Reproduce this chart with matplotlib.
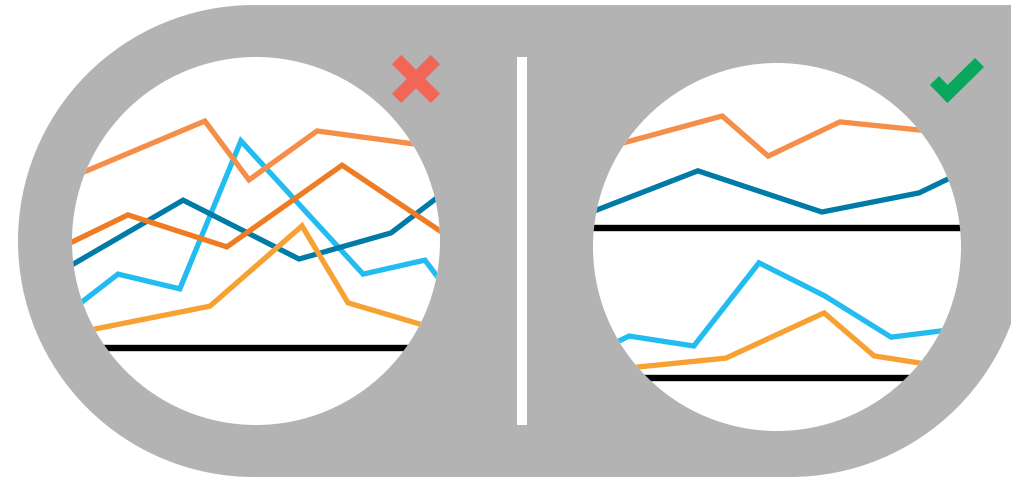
import matplotlib.pyplot as plt
from matplotlib.patches import Circle, Rectangle
from matplotlib.lines import Line2D

# colours
GREY = "#b3b3b3"
LIGHT_ORANGE = "#f58e48"
DARK_ORANGE = "#ef7b22"
DARK_BLUE = "#007aa6"
LIGHT_BLUE = "#22bcf1"
YELLOW = "#f6a132"

# left chart: all five series on one axis (0-100 scale)
bad_x_light_orange = [-3.3, 36.1, 48.1, 66.6, 92.7, 102.7]
bad_y_light_orange = [66.0, 82.6, 66.6, 79.9, 76.4, 75.0]
bad_x_dark_orange = [-3.3, 15.2, 42.1, 73.4, 104.1]
bad_y_dark_orange = [48.1, 57.1, 48.4, 70.6, 50.0]
bad_x_dark_blue = [-3.3, 30.2, 61.7, 86.7, 104.1]
bad_y_dark_blue = [41.6, 61.1, 45.1, 52.2, 65.5]
bad_x_light_blue = [-3.3, 12.5, 29.3, 45.9, 79.1, 95.9, 104.1]
bad_y_light_blue = [28.8, 41.0, 37.0, 77.2, 41.0, 44.8, 34.0]
bad_x_yellow = [-3.3, 37.5, 62.5, 75.0, 94.6, 104.1]
bad_y_yellow = [24.2, 32.3, 54.1, 33.2, 27.4, 24.7]
bad_baselines = [20.9]

# right chart: split into two stacked charts
good_x_light_orange = [-3.5, 35.1, 47.6, 67.1, 88.6, 103.8]
good_y_light_orange = [75.1, 85.6, 74.7, 84.0, 81.8, 80.2]
good_x_dark_blue = [-3.5, 28.5, 62.2, 88.6, 96.5, 103.8]
good_y_dark_blue = [58.3, 70.7, 59.5, 64.7, 68.5, 72.0]
good_x_light_blue = [-3.5, 9.8, 27.4, 45.1, 63.0, 81.0, 94.6, 103.8]
good_y_light_blue = [19.3, 25.8, 23.1, 45.7, 36.7, 25.5, 27.2, 28.3]
good_x_yellow = [-3.5, 36.1, 62.8, 76.4, 88.6, 103.8]
good_y_yellow = [15.8, 19.8, 32.1, 20.4, 18.5, 16.0]
good_baselines = [55.2, 14.4]

W, H = 1012, 481
fig = plt.figure(figsize=(W / 100, H / 100), dpi=100)
fig.patch.set_facecolor("white")

# background layer in pixel units
bg = fig.add_axes([0, 0, 1, 1])
bg.set_xlim(0, W)
bg.set_ylim(H, 0)
bg.axis("off")

# grey frame: round on the left, rounded bottom-right, square top-right
bg.add_patch(Circle((254, 242), 236, color=GREY, lw=0))
bg.add_patch(Rectangle((254, 6), 536, 472, color=GREY, lw=0))
bg.add_patch(Circle((790, 242), 236, color=GREY, lw=0))
bg.add_patch(Rectangle((790, 6), 240, 236, color=GREY, lw=0))

# white divider
bg.add_patch(Rectangle((517, 58), 10, 368, color="white", lw=0))

# red cross
for xs, ys in [([396.6, 435.4], [60.6, 99.4]), ([435.4, 396.6], [60.6, 99.4])]:
    bg.add_line(Line2D(xs, ys, color="#f26658", lw=9.4, solid_capstyle="butt"))

# green tick
bg.add_line(Line2D([934.5, 947.5, 979.5], [81.5, 95, 63.5], color="#08a75b",
                   lw=9.2, solid_capstyle="butt", solid_joinstyle="miter"))


def panel(cx, cy, series, baselines):
    r = 184
    ax = fig.add_axes([(cx - r) / W, (H - cy - r) / H, 2 * r / W, 2 * r / H])
    ax.set_xlim(0, 100)
    ax.set_ylim(0, 100)
    ax.axis("off")
    disk = Circle((0.5, 0.5), 0.5, transform=ax.transAxes,
                  facecolor="white", edgecolor="none", zorder=0)
    ax.add_patch(disk)
    for y in baselines:
        ln = ax.axhline(y, color="black", lw=4.6, zorder=2)
        ln.set_clip_path(disk)
    for xs, ys, c in series:
        ln, = ax.plot(xs, ys, color=c, lw=3.8, solid_joinstyle="miter", zorder=3)
        ln.set_clip_path(disk)


panel(256, 242, [
    (bad_x_light_blue, bad_y_light_blue, LIGHT_BLUE),
    (bad_x_dark_blue, bad_y_dark_blue, DARK_BLUE),
    (bad_x_dark_orange, bad_y_dark_orange, DARK_ORANGE),
    (bad_x_light_orange, bad_y_light_orange, LIGHT_ORANGE),
    (bad_x_yellow, bad_y_yellow, YELLOW),
], bad_baselines)

panel(777, 248, [
    (good_x_light_orange, good_y_light_orange, LIGHT_ORANGE),
    (good_x_dark_blue, good_y_dark_blue, DARK_BLUE),
    (good_x_light_blue, good_y_light_blue, LIGHT_BLUE),
    (good_x_yellow, good_y_yellow, YELLOW),
], good_baselines)

fig.savefig("out.png", dpi=100)
